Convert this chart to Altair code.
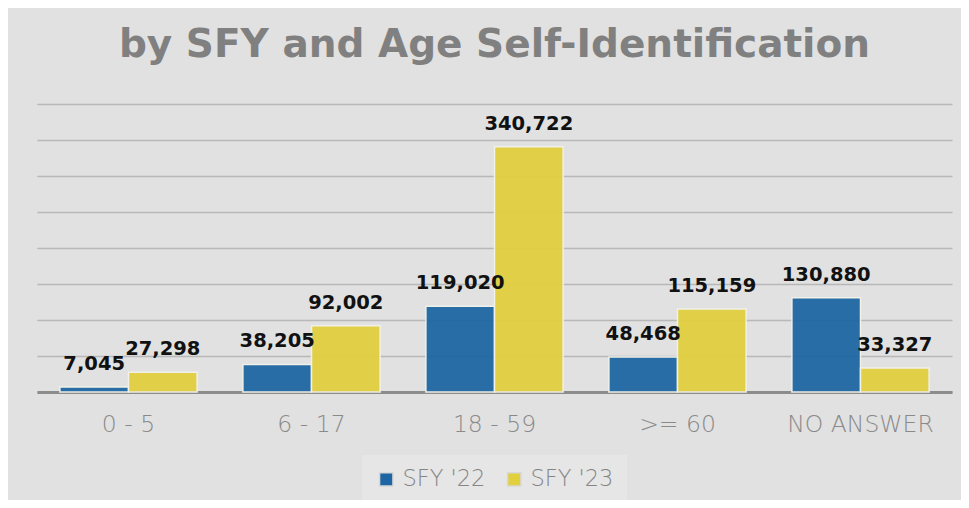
import altair as alt
import pandas as pd

categories = ["0 - 5", "6 - 17", "18 - 59", ">= 60", "NO ANSWER"]
sfy22 = [7045, 38205, 119020, 48468, 130880]
sfy23 = [27298, 92002, 340722, 115159, 33327]
series = ["SFY '22", "SFY '23"]
grid_values = [0, 50000, 100000, 150000, 200000, 250000, 300000, 350000, 400000]

rows = []
for c, a, b in zip(categories, sfy22, sfy23):
    rows.append({"age": c, "year": series[0], "value": a})
    rows.append({"age": c, "year": series[1], "value": b})
df = pd.DataFrame(rows)

FONT = "DejaVu Sans"

x = alt.X("age:N", sort=categories, title=None,
          scale=alt.Scale(paddingInner=0.25, paddingOuter=0.125),
          axis=alt.Axis(labelAngle=0, labelFont=FONT, labelFontSize=23.5,
                        labelFontWeight=200, labelColor="#8a8a8a",
                        labelPadding=20, ticks=False, domainColor="#8c8c8c",
                        domainWidth=3, grid=False))
y = alt.Y("value:Q", title=None,
          scale=alt.Scale(domain=[0, 400000], nice=False),
          axis=alt.Axis(values=grid_values, labels=False,
                        ticks=False, domain=False,
                        grid=True, gridColor="#b8b8b8", gridWidth=1.5))
color = alt.Color("year:N", sort=series,
                  scale=alt.Scale(domain=series, range=["#1d66a3", "#e2cf3e"]),
                  legend=alt.Legend(title=None, orient="none", legendX=325,
                                    legendY=351, direction="horizontal",
                                    fillColor="#e6e6e6", padding=13,
                                    symbolType="square", symbolSize=180,
                                    symbolStrokeColor="#d8d8d8",
                                    symbolStrokeWidth=1.5, symbolOpacity=1,
                                    labelFont=FONT, labelFontSize=22.5,
                                    labelFontWeight=200, labelColor="#858585",
                                    columnPadding=17, labelOffset=5))

base = alt.Chart(df).encode(
    x=x, y=y, xOffset=alt.XOffset("year:N", sort=series)
)

bars = base.mark_bar(stroke="#f2f2ea", strokeWidth=1.5, opacity=0.94).encode(
    color=color
)

labels = base.mark_text(font=FONT, fontSize=19.5, fontWeight="bold",
                        color="#111111", baseline="alphabetic",
                        dy=-17).encode(
    text=alt.Text("value:Q", format=",d"),
)

chart = alt.layer(bars, labels).properties(
    width=915, height=288,
    title=alt.Title("by SFY and Age Self-Identification", font=FONT,
                    fontSize=39, fontWeight="bold", color="#808080",
                    anchor="middle", offset=39),
    autosize=alt.AutoSizeParams(type="none"),
    padding={"left": 29, "top": 96, "right": 9, "bottom": 108},
    background="#e1e1e1",
).configure_view(stroke=None)

chart.save("out.html", embed_options={"renderer": "svg", "actions": False})
